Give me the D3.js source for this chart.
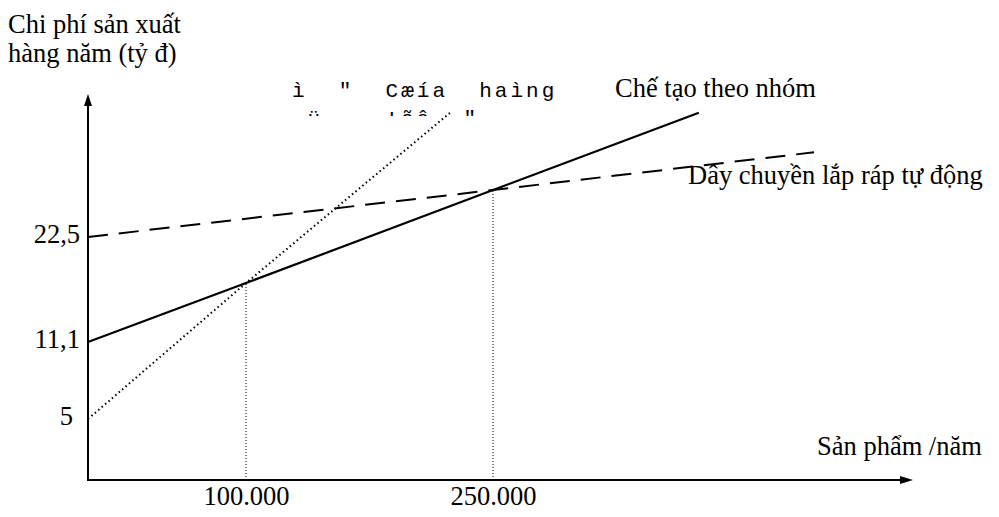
<!DOCTYPE html>
<html>
<head>
<meta charset="utf-8">
<script src="https://cdn.jsdelivr.net/npm/d3@7"></script>
<style>
  body { margin: 0; background: #fff; }
  text { font-family: "Liberation Serif", "Times New Roman", serif; font-size: 26.5px; fill: #000; }
  .mono { font-family: "Liberation Mono", "Courier New", monospace; font-size: 21px; letter-spacing: 3px; white-space: pre; }
</style>
</head>
<body>
<div id="chart"></div>
<script>
// values
const xTicks = [100000, 250000];
const yTicks = [5, 11.1, 22.5];

// cost lines: [products per year, annual cost]
const groupMfg = [[0, 11.1], [100000, 17.5], [250000, 27.6], [375000, 36]];
const assemblyLine = [[0, 22.5], [250000, 27.6], [445000, 31.7]];
const dottedLine = [[0, 5], [100000, 17.5], [224000, 36]];

// break-even guides
const guides = [[100000, 17.5], [250000, 27.6]];

const labels = {
  yTitle: ["Chi phí sản xuất", "hàng năm (tỷ đ)"],
  xTitle: "Sản phẩm /năm",
  group: "Chế tạo theo nhóm",
  assembly: "Dây chuyền lắp ráp tự động",
  garbled: ["ì  \"  Cæía  haìng", " ü    !ãâ  \""]
};

const width = 999, height = 517;

const svg = d3.select("#chart").append("svg")
    .attr("width", width)
    .attr("height", height);

// the drawing is schematic, so the scales are piecewise
const x = d3.scaleLinear().domain([0, 100000, 250000]).range([88, 246, 493]);
const y = d3.scaleLinear().domain([0, 5, 11.1, 22.5]).range([480, 419, 342, 237]);

const line = d3.line().x(d => x(d[0])).y(d => y(d[1]));

// axes with arrow heads
svg.append("line")
    .attr("x1", x(0)).attr("x2", x(0))
    .attr("y1", y(0) + 1).attr("y2", 100)
    .attr("stroke", "#000").attr("stroke-width", 2);
svg.append("path")
    .attr("d", `M${x(0) - 4},106 L${x(0)},94 L${x(0) + 4},106 Z`)
    .attr("fill", "#000");
svg.append("line")
    .attr("x1", x(0)).attr("x2", 906)
    .attr("y1", y(0)).attr("y2", y(0))
    .attr("stroke", "#000").attr("stroke-width", 2);
svg.append("path")
    .attr("d", `M900,${y(0) - 4} L913,${y(0)} L900,${y(0) + 4} Z`)
    .attr("fill", "#000");

// tick labels
const fmt = d3.formatLocale({decimal: ",", thousands: ".", grouping: [3], currency: ["", ""]});

const yAxis = svg.append("g")
    .attr("transform", `translate(${x(0)},0)`)
    .call(d3.axisLeft(y).tickValues(yTicks).tickSize(0).tickPadding(8)
        .tickFormat(d => String(d).replace(".", ",")));
yAxis.select(".domain").remove();
yAxis.selectAll("text")
    .style("font-size", "26.5px").attr("font-family", null)
    .attr("dx", d => d === 5 ? -7 : 0)
    .attr("dy", "0.2em");

const xAxis = svg.append("g")
    .attr("transform", `translate(0,${y(0)})`)
    .call(d3.axisBottom(x).tickValues(xTicks).tickSize(0).tickPadding(6)
        .tickFormat(fmt.format(",")));
xAxis.select(".domain").remove();
xAxis.selectAll("text").style("font-size", "26.5px").attr("font-family", null);

// vertical guides
svg.selectAll(".guide")
    .data(guides)
    .enter()
    .append("line")
    .attr("class", "guide")
    .attr("x1", d => x(d[0])).attr("x2", d => x(d[0]))
    .attr("y1", y(0)).attr("y2", d => y(d[1]))
    .attr("stroke", "#000").attr("stroke-width", 1)
    .attr("stroke-dasharray", "1,2");

// cost lines
svg.append("path").datum(dottedLine)
    .attr("d", line)
    .attr("fill", "none").attr("stroke", "#000")
    .attr("stroke-width", 2).attr("stroke-dasharray", "1.5,3");

svg.append("path").datum(assemblyLine)
    .attr("d", line)
    .attr("fill", "none").attr("stroke", "#000")
    .attr("stroke-width", 2).attr("stroke-dasharray", "20,11");

svg.append("path").datum(groupMfg)
    .attr("d", line)
    .attr("fill", "none").attr("stroke", "#000")
    .attr("stroke-width", 2.2);

// titles and line labels
svg.append("text").attr("x", 8).attr("y", 33).text(labels.yTitle[0]);
svg.append("text").attr("x", 8).attr("y", 62).text(labels.yTitle[1]);
svg.append("text").attr("x", 817).attr("y", 455).text(labels.xTitle);
svg.append("text").attr("x", 615).attr("y", 97).text(labels.group);
svg.append("text").attr("x", 688).attr("y", 184).text(labels.assembly);

// broken text box, second row cut off at its bottom edge
svg.append("clipPath").attr("id", "boxClip")
  .append("rect").attr("x", 250).attr("y", 60).attr("width", 350).attr("height", 56);

const box = svg.append("g").attr("clip-path", "url(#boxClip)");
box.append("text").attr("class", "mono").attr("x", 292).attr("y", 97).text(labels.garbled[0]);
box.append("text").attr("class", "mono").attr("x", 292).attr("y", 125).text(labels.garbled[1]);
</script>
</body>
</html>
